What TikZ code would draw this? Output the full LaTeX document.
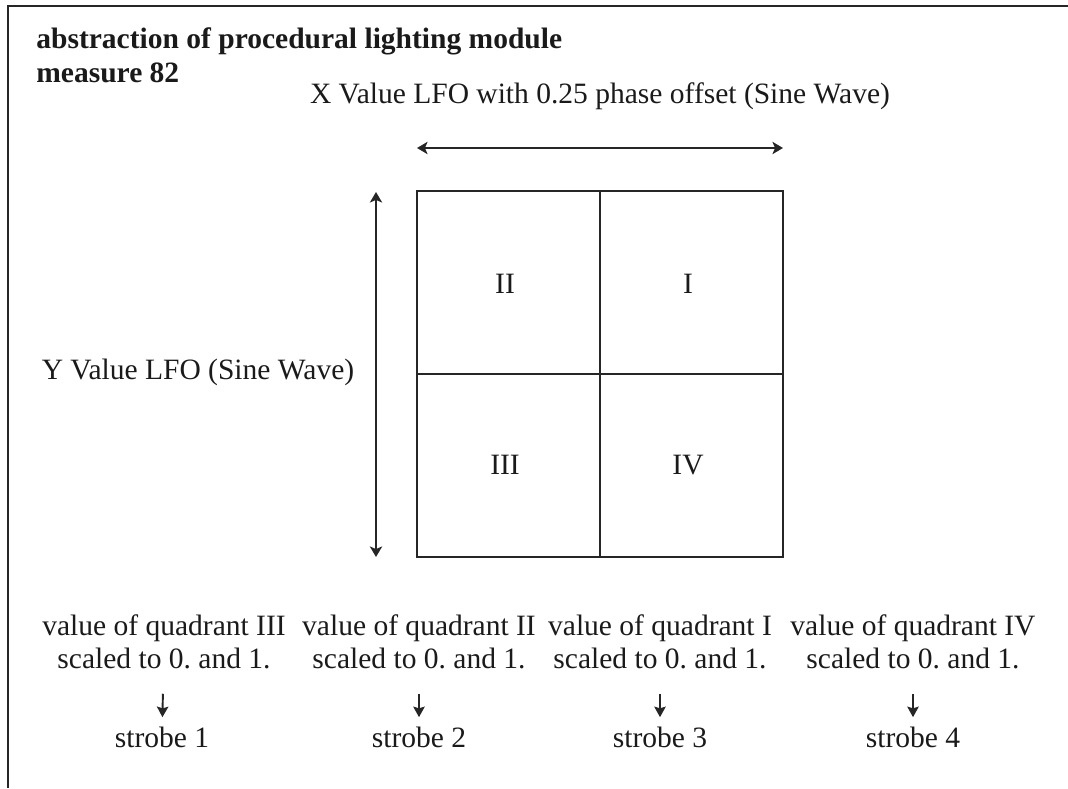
\documentclass[tikz,border=0pt]{standalone}
\usepackage{fontspec}
\setmainfont{Liberation Serif}
\usepackage{tikz}
\usetikzlibrary{arrows.meta,positioning}
\usepackage{xcolor}
\definecolor{ink}{HTML}{1A1A1A}
\definecolor{rule}{HTML}{262626}
\frenchspacing

\begin{document}
\begin{tikzpicture}[x=0.02cm, y=-0.02cm, every node/.style={font=\fontsize{16.8pt}{18.7pt}\selectfont, inner sep=0pt, text=ink},
  title/.style={anchor=base west, font=\fontsize{16.8pt}{18.7pt}\selectfont\bfseries},
  lfo/.style={rule, line width=1.1pt, {Stealth[length=6pt,width=7pt,inset=1.5pt]}-{Stealth[length=6pt,width=7pt,inset=1.5pt]}},
  down/.style={rule, line width=1.1pt, -{Stealth[length=6pt,width=6.5pt,inset=1pt]}, shorten <=0.5cm, shorten >=0.18cm}]
  % Page size and frame
  \useasboundingbox (0,0) rectangle (1068,788);
  \draw[rule, line width=1.1pt] (8,788) -- (8,6) -- (1068,6);

  % Heading
  \node[title] (head) at (36,48) {abstraction of procedural lighting module};
  \node[title] (meas) at (36,82) {measure 82};

  % Quadrant square
  \node[draw=rule, line width=1.1pt, minimum width=7.32cm, minimum height=7.32cm] (sq) at (600,374) {};
  \draw[rule, line width=1.1pt] (sq.north) -- (sq.south);
  \draw[rule, line width=1.1pt] (sq.west) -- (sq.east);

  \node[anchor=base] (q2) at (505,293) {II};
  \node[anchor=base] (q1) at (688,293) {I};
  \node[anchor=base] (q3) at (505,474) {III};
  \node[anchor=base] (q4) at (688,474) {IV};

  % LFO axes
  \node[anchor=base] (xlfo) at (600,103) {X Value LFO with 0.25 phase offset (Sine Wave)};
  \coordinate (xl) at (417,148);
  \coordinate (xr) at (783,148);
  \draw[lfo] (xl) -- (xr);

  \node[anchor=base] (ylfo) at (198,379) {Y Value LFO (Sine Wave)};
  \coordinate (yt) at (376,192);
  \coordinate (yb) at (376,557);
  \draw[lfo] (yt) -- (yb);

  % Outputs
  \node[anchor=north, align=center] (val3) at (164,614) {value of quadrant III\\scaled to 0. and 1.};
  \node[anchor=north, align=center] (val2) at (419,614) {value of quadrant II\\scaled to 0. and 1.};
  \node[anchor=north, align=center] (val1) at (660,614) {value of quadrant I\\scaled to 0. and 1.};
  \node[anchor=north, align=center] (val4) at (913,614) {value of quadrant IV\\scaled to 0. and 1.};

  \node[anchor=base] (strobe1) at (162,747) {strobe 1};
  \node[anchor=base] (strobe2) at (419,747) {strobe 2};
  \node[anchor=base] (strobe3) at (660,747) {strobe 3};
  \node[anchor=base] (strobe4) at (913,747) {strobe 4};

  \draw[down] (val3) -- (strobe1);
  \draw[down] (val2) -- (strobe2);
  \draw[down] (val1) -- (strobe3);
  \draw[down] (val4) -- (strobe4);
\end{tikzpicture}
\end{document}
